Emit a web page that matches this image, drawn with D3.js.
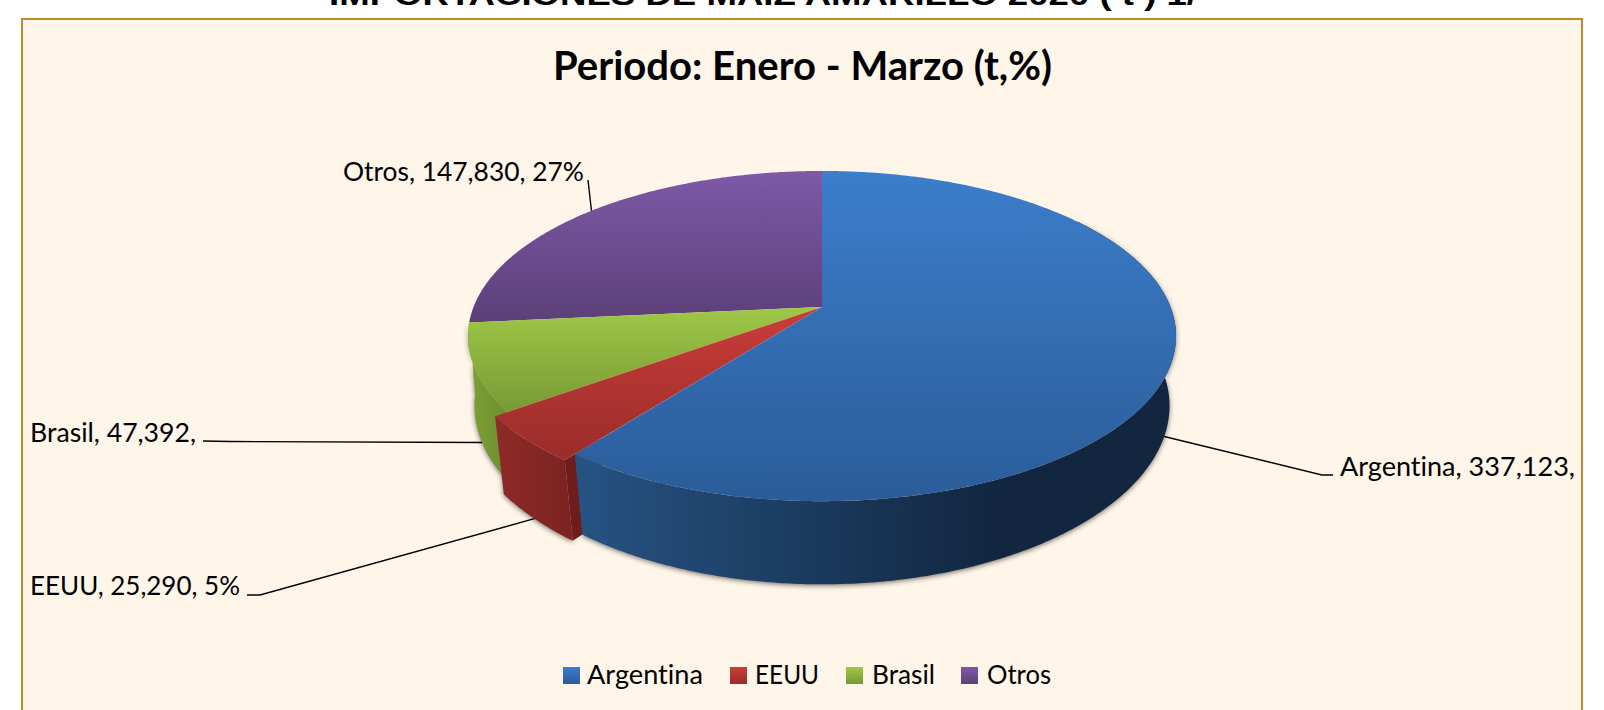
<!DOCTYPE html>
<html><head><meta charset="utf-8">
<script src="https://cdn.jsdelivr.net/npm/d3@7/dist/d3.min.js"></script>
<style>html,body{margin:0;padding:0;background:#fff;overflow:hidden}svg{display:block}text{font-variant-ligatures:none}</style>
</head><body><svg id="c" width="1604" height="710"></svg>
<script>
const categories=["Argentina","EEUU","Brasil","Otros"];
const values=[337123,25290,47392,147830];
const labelTexts=["Argentina, 337,123,","EEUU, 25,290, 5%","Brasil, 47,392,","Otros, 147,830, 27%"];
const topColors=[["#3c7ecb","#2b5c99"],["#cb3d39","#992c2a"],["#9fc847","#789a34"],["#7e59a8","#5c3f78"]];
const wallColors=[["#265383","#12263f"],["#8e2a27","#7a2321"],["#7c9f37","#6c8e2f"],["#5c3f78","#5c3f78"]];

const W=1604,H=710;
const svg=d3.select("#c");
const defs=svg.append("defs");

// page
svg.append("rect").attr("width",W).attr("height",H).attr("fill","#fff");
svg.append("text").text("IMPORTACIONES DE MAIZ AMARILLO 2020 ( t ) 1/")
  .attr("x",329).attr("y",5).attr("textLength",868).attr("lengthAdjust","spacingAndGlyphs")
  .attr("font-family","Liberation Sans").attr("font-weight","700").attr("font-size",30).attr("fill","#000");
svg.append("rect").attr("x",22).attr("y",19).attr("width",1560).attr("height",H+20)
  .attr("fill","#fff6e9").attr("stroke","#bd8a2f").attr("stroke-width",2);

// projection of the pie disc
const cx=822,cy=307,Rx=348.5,Ry=160,p=0.176;
const project=(a,r=1)=>{const X=Math.sin(a),Y=Math.cos(a),k=1+p*Y;
  return [Rx*X/k*r,-Ry*Y/k*r];};
const topPt=(a,r)=>{const q=project(a,r);return [cx+q[0],cy+q[1]];};
const botPt=(a,r)=>{const q=project(a,r);return [cx+q[0]*(0.985+0.02*Math.cos(a)),cy+71.5+q[1]*1.06];};

const pie=d3.pie().sort(null).startAngle(0).endAngle(2*Math.PI);
const slices=pie(values);
const blow=[1,1.04,1,1];
const angles=(s,e)=>{const n=Math.max(2,Math.ceil(Math.abs(e-s)/0.01));return d3.range(n+1).map(i=>s+(e-s)*i/n);};
const line=d3.line();

// gradients
categories.forEach((c,i)=>{
  const g=defs.append("linearGradient").attr("id","top"+i).attr("x1",0).attr("x2",0).attr("y1",0).attr("y2",1);
  g.append("stop").attr("offset",0).attr("stop-color",topColors[i][0]);
  g.append("stop").attr("offset",1).attr("stop-color",topColors[i][1]);
});
const wallRange=[[575,1000],[497,575],[470,510],[470,510]];
categories.forEach((c,i)=>{
  const g=defs.append("linearGradient").attr("id","wall"+i).attr("gradientUnits","userSpaceOnUse")
    .attr("x1",wallRange[i][0]).attr("x2",wallRange[i][1]).attr("y1",0).attr("y2",0);
  g.append("stop").attr("offset",0).attr("stop-color",wallColors[i][0]);
  g.append("stop").attr("offset",1).attr("stop-color",wallColors[i][1]);
});
const f=defs.append("filter").attr("id","sh").attr("x","-10%").attr("y","-10%").attr("width","120%").attr("height","125%");
f.append("feGaussianBlur").attr("stdDeviation",2.8);

const shadowG=svg.append("g").attr("filter","url(#sh)").attr("opacity",0.6).attr("transform","translate(0,1.5)");
const pieG=svg.append("g");

const topPath=i=>{const s=slices[i],r=blow[i];
  return line([[cx,cy],...angles(s.startAngle,s.endAngle).map(a=>topPt(a,r))])+"Z";};
const wallPath=(i,s0,e0)=>{const r=blow[i],as=angles(s0,e0);let d="";
  for(let k=0;k<as.length-1;k++){
    d+=line([topPt(as[k],r),topPt(as[k+1],r),botPt(as[k+1],r),botPt(as[k],r)])+"Z";
  }
  return d;};
const drawWall=(i,s0,e0)=>{
  const d=wallPath(i,s0,e0);
  shadowG.append("path").attr("d",d).attr("fill","#222");
  pieG.append("path").attr("d",d).attr("fill",`url(#wall${i})`);
};
const drawTop=i=>pieG.append("path").attr("d",topPath(i)).attr("fill",`url(#top${i})`);

// back to front
drawWall(2,slices[2].startAngle,slices[2].endAngle);
drawTop(3);
drawTop(2);
drawWall(1,slices[1].startAngle,slices[1].endAngle);
// exposed radial cut of the blown-out slice
const a1=slices[1].startAngle;
pieG.append("path").attr("d",line([topPt(a1,blow[1]),botPt(a1,blow[1]),botPt(a1,0.9),topPt(a1,0.9)])+"Z").attr("fill","#6e1d1c");
drawTop(1);
drawWall(0,Math.PI*0.3,slices[0].endAngle);
drawTop(0);

// leaders: start on the slice at its mid-angle
const mid=slices.map(s=>(s.startAngle+s.endAngle)/2);
const leaderG=svg.append("g").attr("fill","none").attr("stroke","#000").attr("stroke-width",1.4);
const elbows=[[[1322,475],[1333,475]],[[260,595],[247,595]],[[230,441.5],[203,441]],[[588,180]]];
const starts=[botPt(mid[0],1),botPt(mid[1],blow[1]),botPt(mid[2],1),topPt(mid[3],1)];
elbows.forEach((e,i)=>leaderG.append("path").attr("d",line([starts[i],...e])));

// labels
const labelX=[1340,30,30,343],labelY=[476,595,442,181],labelW=[235,210,166,241];
svg.append("g").selectAll("text").data(labelTexts).join("text")
  .text(d=>d).attr("x",(d,i)=>labelX[i]).attr("y",(d,i)=>labelY[i])
  .attr("textLength",(d,i)=>labelW[i]).attr("lengthAdjust","spacingAndGlyphs")
  .attr("font-family","Lato").attr("font-size",26.5).attr("fill","#000");

// title
svg.append("text").text("Periodo: Enero - Marzo (t,%)").attr("x",553).attr("y",80)
  .attr("textLength",499).attr("lengthAdjust","spacingAndGlyphs")
  .attr("font-family","Lato").attr("font-weight","700").attr("font-size",41).attr("fill","#000");

// legend
const swX=[563,730,846,961],txX=[587,755,872,987],txW=[116,64,63,64];
const lg=svg.append("g");
categories.forEach((c,i)=>{
  lg.append("rect").attr("x",swX[i]).attr("y",667).attr("width",17).attr("height",17).attr("fill",`url(#top${i})`);
  lg.append("text").text(c).attr("x",txX[i]).attr("y",684)
    .attr("textLength",txW[i]).attr("lengthAdjust","spacingAndGlyphs")
    .attr("font-family","Lato").attr("font-size",26.5).attr("fill","#000");
});
</script></body></html>
